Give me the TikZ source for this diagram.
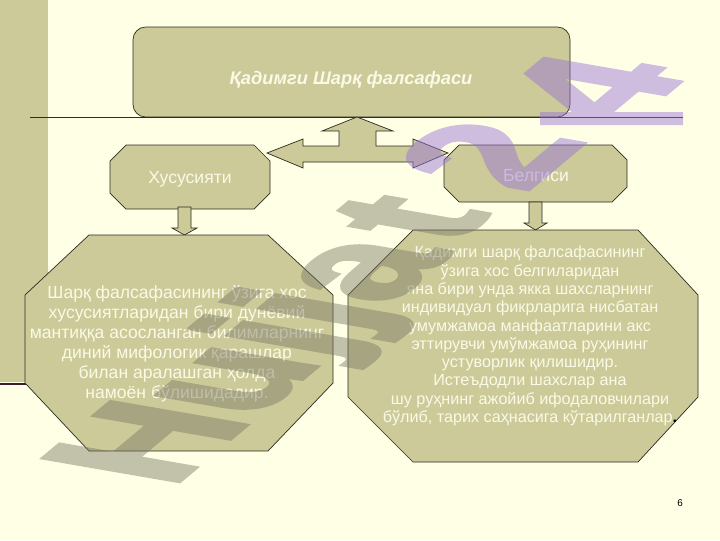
\documentclass[tikz,border=0pt]{standalone}
\usepackage{fontspec}
\setmainfont{Liberation Sans}
\newfontfamily\markfont[FakeBold=3]{Liberation Sans Bold}
\usetikzlibrary{positioning}

\definecolor{slidecream}{RGB}{255,255,229}
\definecolor{slidekhaki}{RGB}{204,202,153}
\definecolor{boxedge}{RGB}{45,45,35}
\definecolor{boxtext}{RGB}{250,250,230}
\definecolor{barmaroon}{RGB}{60,28,45}
\definecolor{markgray}{RGB}{120,118,100}
\definecolor{markpurple}{RGB}{150,110,220}

\tikzset{
  khakibox/.style={fill=slidekhaki, draw=boxedge, line width=0.5pt},
  boxlabel/.style={text=boxtext, inner sep=0pt, font=\fontsize{12.5}{14}\selectfont},
  octlabel/.style={text=boxtext, inner sep=0pt, align=center},
  markglyph/.style={transform shape, anchor=base west, inner sep=0pt,
    font=\fontsize{100}{100}\selectfont\markfont},
}

\begin{document}
\lineskiplimit=-20pt
\begin{tikzpicture}[x=0.025cm, y=-0.025cm]

  \useasboundingbox (0,0) rectangle (720,540);
  \clip (0,0) rectangle (720,540);

  %% Slide background and left bar.
  \fill[slidecream] (0,0) rectangle (720,540);
  \fill[slidekhaki] (0,0) rectangle (48,382);
  \draw[barmaroon, line width=2pt] (0,384) -- (100,384);


  %% Title box and rule.
  \draw[khakibox, rounded corners=9] (133,27) rectangle (570,117);
  \node[boxlabel, font=\fontsize{13}{15}\selectfont\bfseries\itshape]
  (title) at (351,80) {Қадимги Шарқ фалсафаси};
  \draw[boxedge, line width=1.2pt] (30,117.5) -- (683,117.5);


  %% Four-way arrow:
  \draw[khakibox] (357,117) -- (393,131) -- (376,131) -- (376,146)
  -- (413,146) -- (413,139) -- (448,153) -- (413,168) -- (413,162)
  -- (303,162) -- (303,168) -- (267,153) -- (303,139) -- (303,146)
  -- (339,146) -- (339,131) -- (322,131) -- cycle;


  %% Small boxes
  \draw[khakibox] (126,145) -- (254,145) -- (270,161) -- (270,193)
  -- (254,209) -- (126,209) -- (110,193) -- (110,161) -- cycle;
  \node[boxlabel] (feat) at (190,179) {Хусусияти};

  \draw[khakibox] (459,145) -- (612,145) -- (627,160) -- (627,187)
  -- (612,202) -- (459,202) -- (444,187) -- (444,160) -- cycle;
  \node[boxlabel] (sign) at (536,176) {Белгиси};


  %% Down arrows
  \draw[khakibox] (178,207) -- (191,207) -- (191,228) -- (197,228)
  -- (184.5,235) -- (172,228) -- (178,228) -- cycle;
  \draw[khakibox] (529,202) -- (542,202) -- (542,223) -- (547,223)
  -- (535.5,230) -- (524,223) -- (529,223) -- cycle;


  %% Left octagon
  \draw[khakibox] (89,235) -- (268,235) -- (333,295) -- (333,383)
  -- (268,451) -- (89,451) -- (25,383) -- (25,295) -- cycle;
  \node[octlabel, font=\fontsize{12.5}{14.2}\selectfont]
  (featbody) at (177,344)
  {Шарқ фалсафасининг ўзига хос\\
   хусусиятларидан бири дунёвий\\
   мантиққа асосланган билимларнинг\\
   диний мифологик қарашлар\\
   билан аралашган ҳолда\\
   намоён бўлишидадир.};

  %% Right octagon
  \draw[khakibox] (413,230) -- (638,230) -- (698,295) -- (698,397)
  -- (638,462) -- (413,462) -- (348,397) -- (348,295) -- cycle;
  \node[octlabel, font=\fontsize{11.5}{13}\selectfont]
  (signbody) at (530,336)
  {Қадимги шарқ фалсафасининг\\
   ўзига хос белгиларидан\\
   яна бири унда якка шахсларнинг\\
   индивидуал фикрларига нисбатан\\
   умумжамоа манфаатларини акс\\
   эттирувчи умўмжамоа руҳининг\\
   устуворлик қилишидир.\\
   Истеъдодли шахслар ана\\
   шу руҳнинг ажойиб ифодаловчилари\\
   бўлиб, тарих саҳнасига кўтарилганлар\textcolor{black}{\textbf{.}}};


  %% Page number
  \node[font=\fontsize{7}{8}\selectfont, text=black] (pagenum) at (680,503) {6};


  %% Watermark, one glyph at a time
  \begin{scope}[transparency group, opacity=0.45]
    \fill[markpurple] (540,112) rectangle (683,125);
    \foreach \glyph/\gx/\gy/\gcol in {H/171/488/markgray, u/254/419/markgray,
      j/324/360/markgray, j/356/333/markgray, a/388/306/markgray,
      t/453/245/markgray, 2/524/193/markpurple, 4/627/126/markpurple}
    {
      \begin{scope}[shift={(\gx,\gy)}, cm={0.815,0.681,-1.396,0.241,(0,0)}]
        \node[markglyph, text=\gcol] at (0,0) {\glyph};
      \end{scope}
    }
  \end{scope}

\end{tikzpicture}
\end{document}
